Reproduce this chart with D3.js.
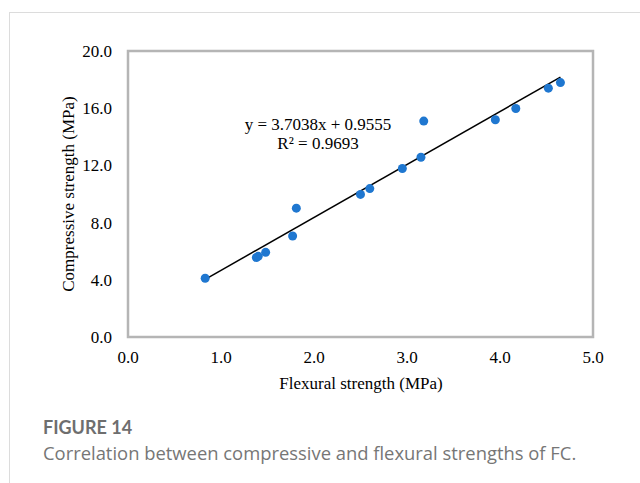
<!DOCTYPE html>
<html lang="en">
<head>
    <meta charset="UTF-8">
    <title>Compressive vs flexural strength</title>
    <script src="https://d3js.org/d3.v7.min.js"></script>
    <style>
        body {
            margin: 0;
            background: #fff;
        }
        .frame {
            position: absolute;
            left: 9px;
            top: 12px;
            width: 640px;
            height: 480px;
            border-left: 1px solid #dcdcdc;
            border-top: 1px solid #dcdcdc;
        }
        .caption {
            position: absolute;
            left: 43px;
            top: 414px;
            font-family: "Open Sans", Lato, sans-serif;
            color: #767676;
            font-size: 18.4px;
            line-height: 25px;
        }
        .caption b {
            font-family: Lato, "Open Sans", sans-serif;
            font-weight: bold;
            font-size: 18px;
            color: #6e6e6e;
        }
        .tick-label, .axis-title, .eq {
            font-family: "Liberation Serif", "Times New Roman", serif;
            fill: #000;
        }
    </style>
</head>
<body>
    <div class="frame"></div>
    <svg id="chart" width="640" height="400" style="position:absolute;left:0;top:0"></svg>
    <div class="caption"><b>FIGURE 14</b><br>Correlation between compressive and flexural strengths of FC.</div>

    <script>
        // flexural strength (MPa) and compressive strength (MPa)
        const flexural = [0.83, 1.38, 1.40, 1.48, 1.77, 1.81, 2.50, 2.60, 2.95, 3.15, 3.18, 3.95, 4.17, 4.52, 4.65];
        const compressive = [4.11, 5.56, 5.64, 5.92, 7.06, 9.01, 9.97, 10.38, 11.78, 12.57, 15.10, 15.19, 15.98, 17.40, 17.79];
        const xTicks = [0, 1, 2, 3, 4, 5];
        const yTicks = [0, 4, 8, 12, 16, 20];
        const slope = 3.7038;
        const intercept = 0.9555;
        const eqLines = ["y = 3.7038x + 0.9555", "R² = 0.9693"];

        const svg = d3.select("#chart");
        const margin = { left: 128, top: 51, right: 593, bottom: 337 };

        const x = d3.scaleLinear().domain([0, 5]).range([margin.left, margin.right]);
        const y = d3.scaleLinear().domain([0, 20]).range([margin.bottom, margin.top]);

        // plot border
        svg.append("rect")
            .attr("x", x(0))
            .attr("y", y(20))
            .attr("width", x(5) - x(0))
            .attr("height", y(0) - y(20))
            .attr("fill", "none")
            .attr("stroke", "#b5b5b5")
            .attr("stroke-width", 2.5);

        svg.selectAll(".xt").data(xTicks).enter().append("text")
            .attr("class", "tick-label")
            .attr("x", d => x(d))
            .attr("y", y(0) + 26)
            .attr("text-anchor", "middle")
            .attr("font-size", "17px")
            .text(d => d.toFixed(1));

        svg.selectAll(".yt").data(yTicks).enter().append("text")
            .attr("class", "tick-label")
            .attr("x", x(0) - 16)
            .attr("y", d => y(d) + 6)
            .attr("text-anchor", "end")
            .attr("font-size", "17px")
            .text(d => d.toFixed(1));

        svg.append("text")
            .attr("class", "axis-title")
            .attr("x", 361)
            .attr("y", 389)
            .attr("text-anchor", "middle")
            .attr("font-size", "17px")
            .text("Flexural strength (MPa)");

        svg.append("text")
            .attr("class", "axis-title")
            .attr("transform", `translate(74,${(y(0) + y(20)) / 2}) rotate(-90)`)
            .attr("text-anchor", "middle")
            .attr("font-size", "17px")
            .text("Compressive strength (MPa)");

        // trend line
        const xMin = d3.min(flexural), xMax = d3.max(flexural);
        svg.append("line")
            .attr("x1", x(xMin))
            .attr("y1", y(slope * xMin + intercept))
            .attr("x2", x(xMax))
            .attr("y2", y(slope * xMax + intercept))
            .attr("stroke", "#000")
            .attr("stroke-width", 1.5);

        svg.selectAll(".dot").data(flexural).enter().append("circle")
            .attr("class", "dot")
            .attr("cx", d => x(d))
            .attr("cy", (d, i) => y(compressive[i]))
            .attr("r", 4.5)
            .attr("fill", "#1f77d0");

        svg.selectAll(".eq").data(eqLines).enter().append("text")
            .attr("class", "eq")
            .attr("x", 318)
            .attr("y", (d, i) => 130 + i * 19)
            .attr("text-anchor", "middle")
            .attr("font-size", "17px")
            .text(d => d);
    </script>
</body>
</html>
